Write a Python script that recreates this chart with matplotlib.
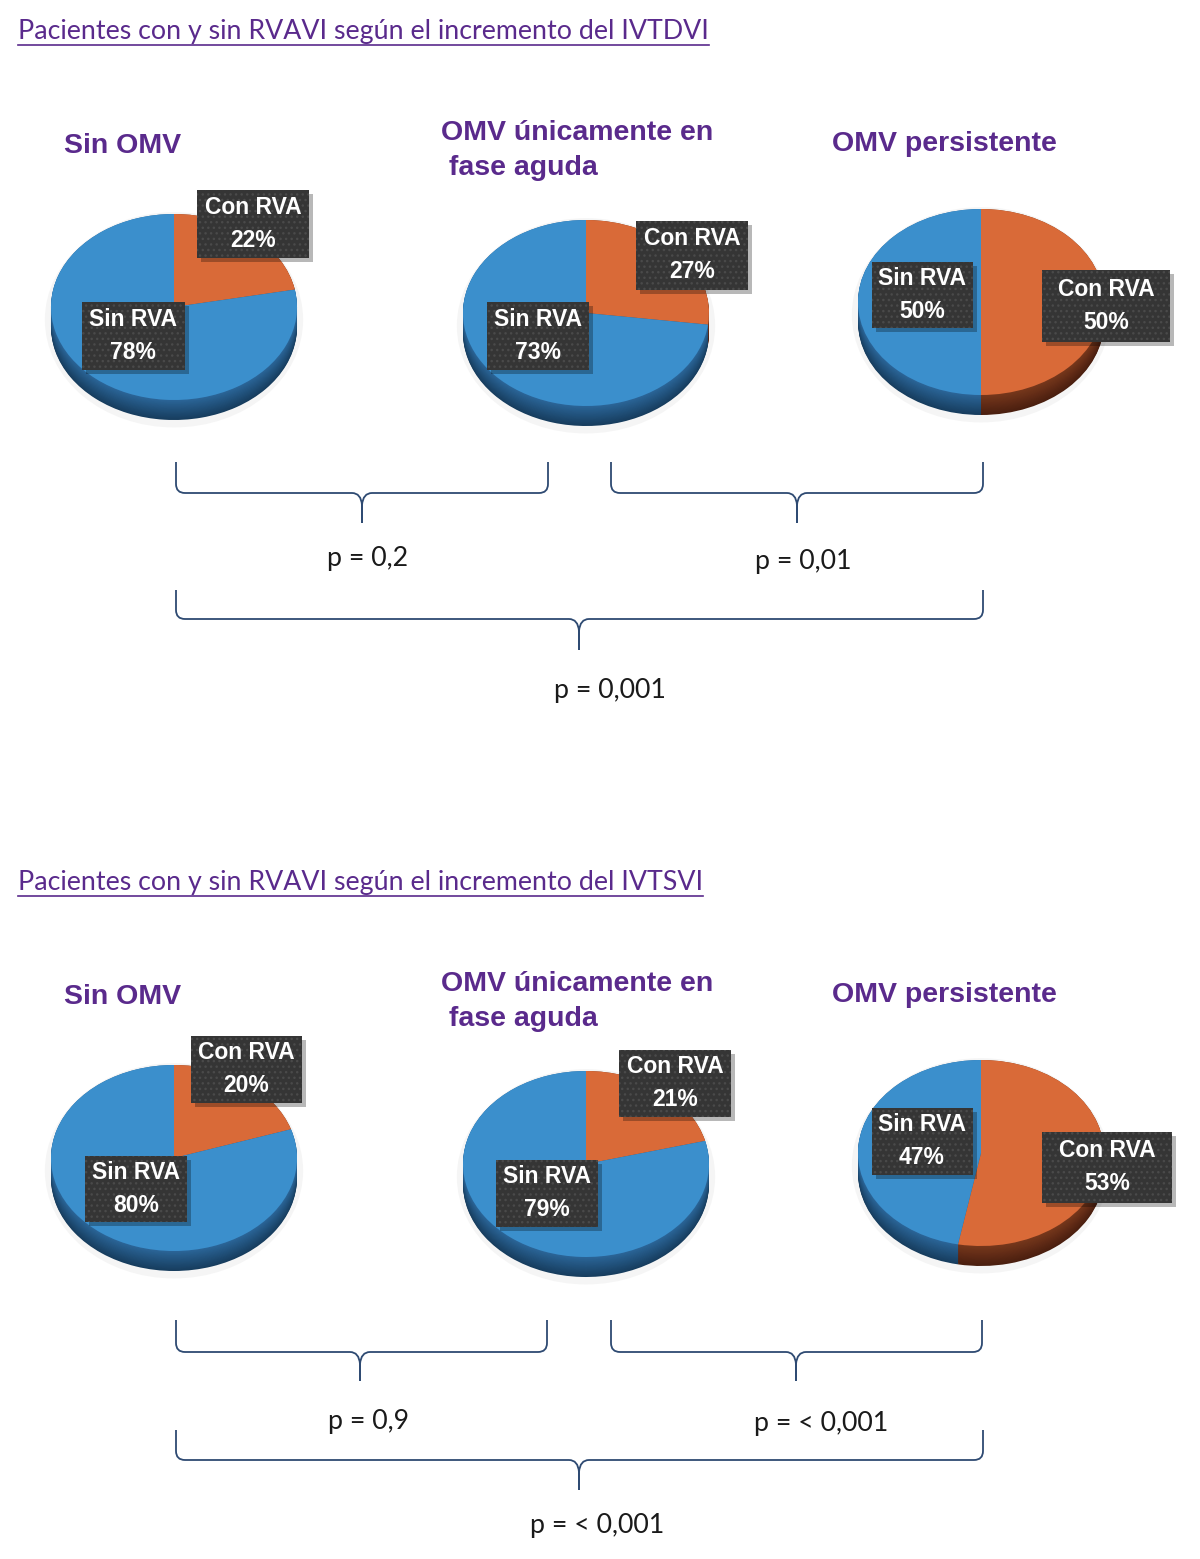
import numpy as np
import matplotlib.pyplot as plt
from matplotlib.path import Path
from matplotlib.patches import PathPatch, Rectangle, Ellipse

# Datos
titulos = ["Pacientes con y sin RVAVI según el incremento del IVTDVI",
           "Pacientes con y sin RVAVI según el incremento del IVTSVI"]
grupos = ["Sin OMV", "OMV únicamente en\n fase aguda", "OMV persistente"]
etiquetas = ["Con RVA", "Sin RVA"]
con_rva = [[22, 27, 50], [20, 21, 53]]
sin_rva = [[78, 73, 50], [80, 79, 47]]
p_valores = [["p = 0,2", "p = 0,01", "p = 0,001"],
             ["p = 0,9", "p = < 0,001", "p = < 0,001"]]

W, H = 1200, 1559
MORADO = "#5a2a8c"
AZUL, NARANJA = "#3b8fcc", "#d96a38"
LLAVE = "#2e4a72"

# Posiciones (pixeles)
desp = [0, 851]
pos_titulo = [(18, 31), (18, 882)]
pos_grupo = [(64, 146), (441, 150), (832, 144)]
centros = [(174, 307), (586, 313), (981, 302)]
cajas = [  # (con_rva, sin_rva) -> (cx, cy, w, h)
    [((253, 224, 112, 68), (133, 336, 103, 68)),
     ((692, 255, 112, 69), (538, 336, 102, 68)),
     ((1106, 306, 128, 72), (922, 295, 101, 66))],
    [((246, 1069, 111, 67), (136, 1189, 102, 66)),
     ((675, 1083, 112, 67), (547, 1193, 102, 67)),
     ((1107, 1167, 130, 71), (922, 1141, 101, 67))],
]
llaves = [  # (x0, x1, ytop, ymid, ytip, xtip)
    [(176, 548, 462, 493, 523, 362), (611, 983, 462, 493, 523, 797),
     (176, 983, 590, 619, 650, 579)],
    [(176, 547, 1320, 1352, 1381, 360), (611, 982, 1320, 1352, 1381, 796),
     (176, 983, 1430, 1460, 1490, 579)],
]
pos_p = [[(368, 558), (803, 561), (610, 690)],
         [(368, 1421), (821, 1423), (597, 1525)]]

fig = plt.figure(figsize=(12, 15.59), dpi=100)
fig.patch.set_facecolor("white")


def dibujar_pie(cx, cy, valores, rx=123, ry=93, prof=20, pad=12):
    izq = (cx - rx - pad) / W
    abajo = 1 - (cy + ry + prof + pad) / H
    ax = fig.add_axes([izq, abajo, (2 * rx + 2 * pad) / W, (2 * ry + prof + 2 * pad) / H])
    ax.set_zorder(1)
    # halo suave
    ax.add_patch(Ellipse((0, -prof / ry / 2 - 0.03), 2.1, 2.1 + prof / ry,
                         color="#d8d8d8", alpha=0.25, lw=0))
    # lateral del cilindro
    n = 25
    azul_os = np.array([[0.09, 0.24, 0.37], [0.17, 0.40, 0.60]])
    nar_os = np.array([[0.29, 0.12, 0.06], [0.47, 0.22, 0.11]])
    for k in range(n):
        t = k / (n - 1)
        off = -prof / ry * (1 - t)
        c_az = azul_os[0] * (1 - t) + azul_os[1] * t
        c_na = nar_os[0] * (1 - t) + nar_os[1] * t
        ax.pie(valores, colors=[c_na, c_az], startangle=90, counterclock=False,
               center=(0, off), wedgeprops=dict(linewidth=0))
    ax.pie(valores, colors=[NARANJA, AZUL], startangle=90, counterclock=False,
           wedgeprops=dict(linewidth=0))
    ax.set_aspect("auto")
    ax.set_xlim(-1 - pad / rx, 1 + pad / rx)
    ax.set_ylim(-1 - (prof + pad) / ry, 1 + pad / ry)
    ax.axis("off")


for s in range(2):
    for i in range(3):
        cx, cy = centros[i]
        dibujar_pie(cx, cy + desp[s], [con_rva[s][i], sin_rva[s][i]])

# Capa superior para textos, cajas y llaves
ax = fig.add_axes([0, 0, 1, 1])
ax.set_zorder(5)
ax.patch.set_alpha(0)
ax.set_xlim(0, W)
ax.set_ylim(H, 0)
ax.axis("off")


def llave(x0, x1, ytop, ymid, ytip, xtip, r=9):
    for xe, sg in ((x0, 1), (x1, -1)):
        verts = [(xe, ytop), (xe, ymid - r), (xe, ymid), (xe + sg * r, ymid),
                 (xtip - sg * 10, ymid), (xtip - sg * 1, ymid), (xtip, ymid + 12),
                 (xtip, ytip)]
        codes = [Path.MOVETO, Path.LINETO, Path.CURVE3, Path.CURVE3,
                 Path.LINETO, Path.CURVE3, Path.CURVE3, Path.LINETO]
        ax.add_patch(PathPatch(Path(verts, codes), fill=False, ec=LLAVE, lw=1.3))


for s in range(2):
    tx, ty = pos_titulo[s]
    t = ax.text(tx, ty, titulos[s], fontsize=19.3, family="Lato", color=MORADO,
                ha="left", va="center")
    fig.canvas.draw()
    bb = t.get_window_extent()
    ax.plot([tx, tx + bb.width], [ty + 14, ty + 14], color=MORADO, lw=1.2)

    for i in range(3):
        gx, gy = pos_grupo[i]
        ax.text(gx, gy + desp[s], grupos[i], fontsize=20.5, family="Liberation Sans",
                weight="bold", color=MORADO, ha="left", va="center", linespacing=1.45)

        vals = [con_rva[s][i], sin_rva[s][i]]
        for j in range(2):
            bx, by, bw, bh = cajas[s][i][j]
            ax.add_patch(Rectangle((bx - bw / 2 + 4, by - bh / 2 + 4), bw, bh,
                                   fc="#000000", alpha=0.28, lw=0))
            ax.add_patch(Rectangle((bx - bw / 2, by - bh / 2), bw, bh,
                                   fc="#353535", ec="#4a4a4a", hatch="...", lw=0))
            ax.text(bx, by, f"{etiquetas[j]}\n{vals[j]}%", fontsize=16.5,
                    family="Liberation Sans", weight="bold", color="white",
                    ha="center", va="center", linespacing=1.55)

    for k in range(3):
        llave(*llaves[s][k])
        px, py = pos_p[s][k]
        ax.text(px, py, p_valores[s][k], fontsize=19.3, family="Lato",
                color="#1a1a1a", ha="center", va="center")

fig.savefig("out.png", dpi=100, facecolor="white")
